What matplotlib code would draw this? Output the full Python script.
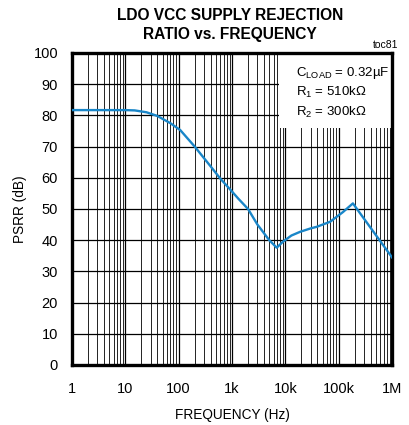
import matplotlib
matplotlib.use("Agg")
import matplotlib.pyplot as plt
from matplotlib.patches import Rectangle
from matplotlib.ticker import LogLocator, NullFormatter

plt.rcParams['font.family'] = ['Liberation Sans', 'DejaVu Sans']
plt.rcParams['mathtext.default'] = 'regular'

freq_hz = [1, 5, 10, 15, 25, 40, 70, 107, 200, 400, 600, 1000, 1300, 2000,
           3000, 5000, 6900, 9000, 13000, 19000, 30000, 39000, 69000, 120000,
           185000, 1000000]
psrr_db = [81.7, 81.7, 81.7, 81.6, 81.0, 79.8, 77.5, 75.3, 70.0, 63.6, 59.8,
           55.6, 53.4, 50.0, 45.0, 40.0, 37.6, 39.5, 41.5, 42.7, 43.8, 44.3,
           45.9, 49.0, 51.8, 34.5]

x_ticks = [1, 10, 100, 1e3, 1e4, 1e5, 1e6]
x_labels = ['1', '10', '100', '1k', '10k', '100k', '1M']
y_ticks = list(range(0, 101, 10))

fig = plt.figure(figsize=(4.09, 4.25), dpi=100)
ax = fig.add_axes([72/409, 1-365/425, 320/409, 312/425])

ax.plot(freq_hz, psrr_db, color='#1a86c8', lw=1.7, zorder=3,
        solid_joinstyle='round')
ax.set_xscale('log')
ax.set_xlim(1, 1e6)
ax.set_ylim(0, 100)
ax.set_xticks(x_ticks)
ax.set_xticklabels(x_labels)
ax.xaxis.set_minor_locator(LogLocator(base=10, subs=range(2, 10), numticks=20))
ax.xaxis.set_minor_formatter(NullFormatter())
ax.set_yticks(y_ticks)
ax.set_axisbelow(True)
ax.grid(True, which='major', axis='both', color='black', lw=0.9)
ax.grid(True, which='minor', axis='x', color='black', lw=0.6)
ax.tick_params(which='both', length=0, labelsize=10.5)
ax.tick_params(axis='x', pad=12)
ax.tick_params(axis='y', pad=10)
for s in ax.spines.values():
    s.set_linewidth(2.4)
    s.set_color('black')

ax.add_patch(Rectangle((0.647, 0.76), 0.353, 0.24, transform=ax.transAxes,
                       facecolor='white', edgecolor='none', zorder=1))

ax.text(0.70, 0.935, r'C$_{LOAD}$ = 0.32µF', transform=ax.transAxes,
        fontsize=9.5, va='center', ha='left')
ax.text(0.70, 0.872, r'R$_1$ = 510kΩ', transform=ax.transAxes,
        fontsize=9.5, va='center', ha='left')
ax.text(0.70, 0.81, r'R$_2$ = 300kΩ', transform=ax.transAxes,
        fontsize=9.5, va='center', ha='left')

ax.set_xlabel('FREQUENCY (Hz)', fontsize=9.8, labelpad=9)
ax.set_ylabel('PSRR (dB)', fontsize=9.8, labelpad=5)

fig.text(230/409, 1-15/425, 'LDO VCC SUPPLY REJECTION', ha='center', va='center',
         fontsize=11.2, fontweight='bold')
fig.text(230/409, 1-34/425, 'RATIO vs. FREQUENCY', ha='center', va='center',
         fontsize=11.2, fontweight='bold')
fig.text(398/409, 1-45/425, 'toc81', ha='right', va='center', fontsize=7.5)

fig.savefig('out.png', dpi=100)
